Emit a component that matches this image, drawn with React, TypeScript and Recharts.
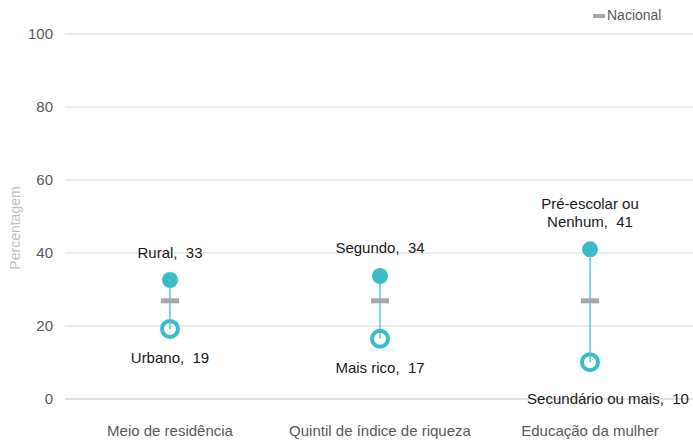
import React from 'react';
import { ComposedChart, XAxis, YAxis, CartesianGrid, Bar, Scatter } from 'recharts';

const FONT = '"Liberation Sans", Arial, sans-serif';

const categories = ['Meio de residência', 'Quintil de índice de riqueza', 'Educação da mulher'];
const highLabels = ['Rural', 'Segundo', 'Pré-escolar ou\nNenhum'];
const highValues = [32.6, 33.7, 41.0];
const lowLabels = ['Urbano', 'Mais rico', 'Secundário ou mais'];
const lowValues = [19.2, 16.5, 10.1];
const nationalValues = [26.9, 26.9, 26.9];
const yTicks = [0, 20, 40, 60, 80, 100];

const data = categories.map((category, i) => ({
  category,
  high: highValues[i],
  low: lowValues[i],
  national: nationalValues[i],
  range: [lowValues[i], highValues[i]],
  highLabel: highLabels[i],
  lowLabel: lowLabels[i],
}));

const TEAL = '#3bbcc8';
const LINE = '#86d5de';
const GREY = '#a6a6a6';

const RangeLine = (props: any) => {
  const { x, y, width, height } = props;
  const cx = x + width / 2;
  const top = Math.min(y, y + height);
  const bottom = Math.max(y, y + height);
  return <line x1={cx} x2={cx} y1={top} y2={bottom} stroke={LINE} strokeWidth={2} />;
};

const NationalMark = (props: any) => {
  const { cx, cy } = props;
  return <rect x={cx - 9} y={cy - 2.5} width={18} height={5} fill={GREY} />;
};

const HighDot = (props: any) => {
  const { cx, cy, payload } = props;
  const lines = String(payload.highLabel).split('\n');
  const n = lines.length;
  return (
    <g>
      <circle cx={cx} cy={cy} r={8} fill={TEAL} />
      {lines.map((ln, k) => (
        <text
          key={k}
          x={cx}
          y={cy - 28 - (n - 1 - k) * 18}
          textAnchor="middle"
          dominantBaseline="central"
          fontSize={15}
          fontFamily={FONT}
          fill="#1a1a1a"
          style={{ whiteSpace: 'pre' }}
        >
          {k === n - 1 ? `${ln},  ${Math.round(payload.high)}` : ln}
        </text>
      ))}
    </g>
  );
};

const LowDot = (props: any) => {
  const { cx, cy, payload } = props;
  // label nudged right/down when close to the axis, like the original
  const nudge = payload.low < 15;
  return (
    <g>
      <circle cx={cx} cy={cy} r={8} fill="none" stroke={TEAL} strokeWidth={4} />
      <text
        x={cx + (nudge ? 18 : 0)}
        y={cy + (nudge ? 36 : 29)}
        textAnchor="middle"
        dominantBaseline="central"
        fontSize={15}
        fontFamily={FONT}
        fill="#1a1a1a"
        style={{ whiteSpace: 'pre' }}
      >
        {`${payload.lowLabel},  ${Math.round(payload.low)}`}
      </text>
    </g>
  );
};

export default function App() {
  return (
    <div style={{ position: 'absolute', left: 0, top: 0, width: 693, height: 443, overflow: 'hidden', background: '#fff' }}>
      <ComposedChart width={695} height={443} data={data} margin={{ top: 34, right: 0, left: 0, bottom: 0 }}>
        <CartesianGrid vertical={false} stroke="#d9d9d9" />
        <XAxis
          dataKey="category"
          height={44}
          axisLine={{ stroke: '#d9d9d9' }}
          tickLine={false}
          tickSize={0}
          tickMargin={26}
          tick={{ fontSize: 15, fill: '#595959', fontFamily: FONT }}
        />
        <YAxis
          width={65}
          domain={[0, 100]}
          ticks={yTicks}
          axisLine={false}
          tickLine={false}
          tickSize={0}
          tickMargin={12}
          tick={{ fontSize: 15, fill: '#595959', fontFamily: FONT }}
          label={() => (
            <text
              x={15}
              y={228}
              transform="rotate(-90 15 228)"
              textAnchor="middle"
              dominantBaseline="central"
              fontSize={14}
              fontFamily={FONT}
              fill="#bfbfbf"
            >
              Percentagem
            </text>
          )}
        />
        <Bar dataKey="range" barSize={10} shape={<RangeLine />} isAnimationActive={false} />
        <Scatter dataKey="national" shape={<NationalMark />} isAnimationActive={false} />
        <Scatter dataKey="high" shape={<HighDot />} isAnimationActive={false} />
        <Scatter dataKey="low" shape={<LowDot />} isAnimationActive={false} />
      </ComposedChart>
      <div style={{ position: 'absolute', left: 593, top: 14, width: 12, height: 4, background: GREY }} />
      <div style={{ position: 'absolute', left: 607, top: 7, fontSize: 14, lineHeight: '17px', color: '#595959', fontFamily: FONT }}>
        Nacional
      </div>
    </div>
  );
}
